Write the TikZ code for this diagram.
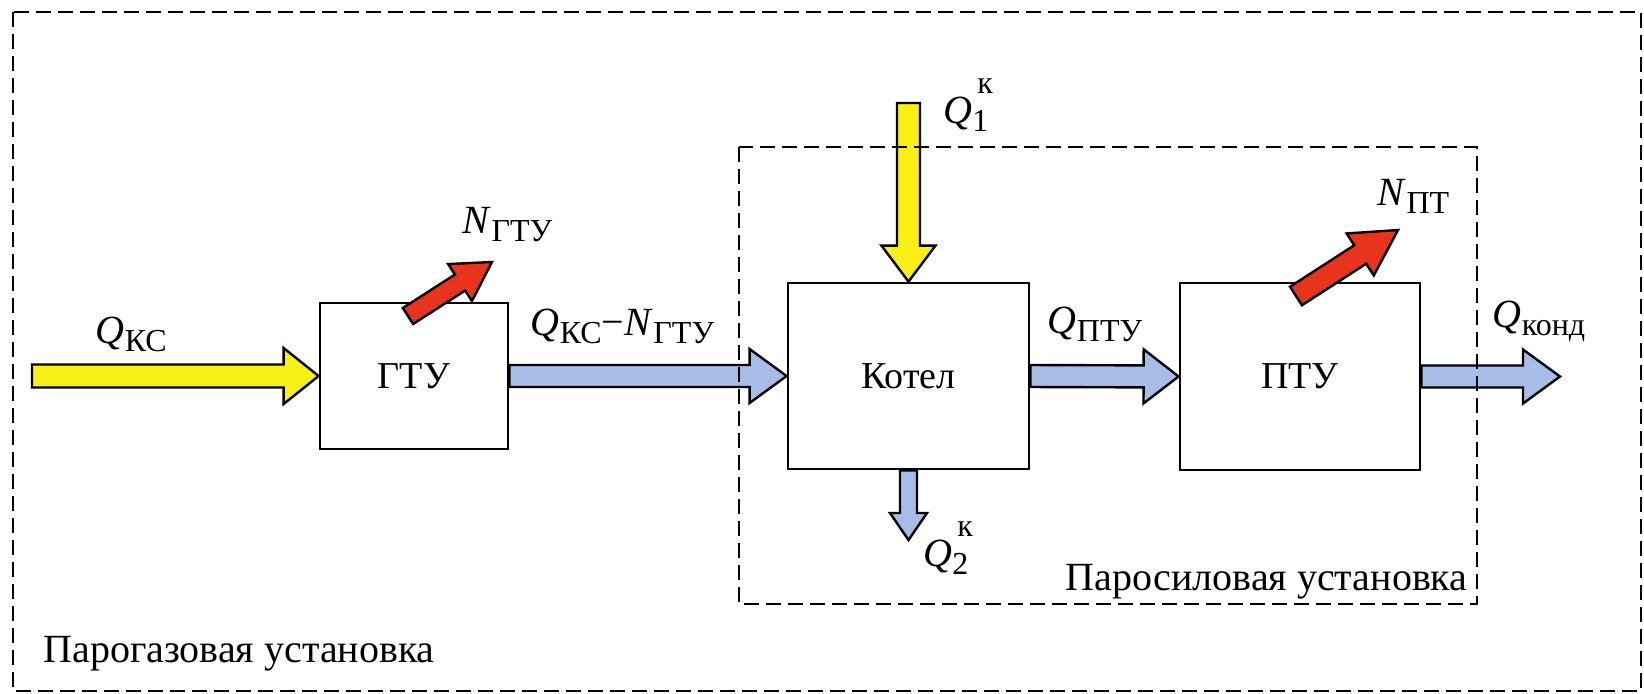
\documentclass[tikz,border=0pt]{standalone}
\usepackage{fontspec}
\setmainfont{Liberation Serif}
\usetikzlibrary{calc}
\definecolor{flowyellow}{RGB}{248,240,20}
\definecolor{flowblue}{RGB}{168,188,232}
\definecolor{flowred}{RGB}{232,52,28}
\newcommand{\subsz}{\fontsize{16}{16}\selectfont}
\newcommand{\sym}[2]{\textit{#1}\kern0.3pt\raisebox{-4pt}{\subsz #2}}
\newcommand{\symk}[2]{\textit{#1}\rlap{\raisebox{-4pt}{\subsz #2}}\raisebox{15pt}{\subsz\kern2.5pt к}}
% #1 from, #2 to, #3 shaft half width, #4 head half width, #5 head length, #6 fill
\newcommand{\fatarrow}[6]{%
  \coordinate (fabase) at ($(#2)!#5!(#1)$);
  \draw[arrowline, fill=#6] ($(#1)!#3!90:(#2)$) -- ($(fabase)!#3!-90:(#1)$)
    -- ($(fabase)!#4!-90:(#1)$) -- (#2) -- ($(fabase)!#4!90:(#1)$)
    -- ($(fabase)!#3!90:(#1)$) -- ($(#1)!#3!-90:(#2)$) -- cycle;}
\begin{document}
\begin{tikzpicture}[x=0.5pt,y=-0.5pt,
  box/.style={draw, line width=1.4pt, fill=white, inner sep=0pt,
    font=\fontsize{19}{19}\selectfont},
  lbl/.style={inner sep=0pt, font=\fontsize{20}{20}\selectfont},
  grp/.style={inner sep=0pt, font=\fontsize{20}{20}\selectfont},
  arrowline/.style={draw=black, line width=1.2pt, line join=miter},
  frame/.style={dashed, dash pattern=on 7.5pt off 3.5pt, line width=0.9pt}]
\useasboundingbox (0,0) rectangle (1644,693);
\fill[white] (0,0) rectangle (1644,693);

% blocks
\node[box, minimum width=94pt, minimum height=73pt] (gtu) at (414,376) {ГТУ};
\node[box, minimum width=120.5pt, minimum height=93pt] (kot) at (908.5,376) {Котел};
\node[box, minimum width=120pt, minimum height=93.5pt] (ptu) at (1300,376.5) {ПТУ};

% free ends
\coordinate (qkcin) at (32,376);
\coordinate (qout) at (1560,376.5);
\coordinate (q1top) at (908.5,103);
\coordinate (q2end) at (908.5,540);
\coordinate (ngtutail) at (408,316);
\coordinate (ngtutip) at (492,262);
\coordinate (npttail) at (1296,296);
\coordinate (npttip) at (1398,230);

% flows
\fatarrow{qkcin}{gtu.west}{5.75pt}{14pt}{17.5pt}{flowyellow}
\fatarrow{gtu.east}{kot.west}{5.5pt}{13.5pt}{18.5pt}{flowblue}
\fatarrow{kot.east}{ptu.west}{5.5pt}{13.5pt}{17.5pt}{flowblue}
\fatarrow{ptu.east}{qout}{5.5pt}{13.5pt}{18.5pt}{flowblue}
\fatarrow{q1top}{kot.north}{5.75pt}{13.5pt}{18pt}{flowyellow}
\fatarrow{kot.south}{q2end}{4.25pt}{9.25pt}{13.5pt}{flowblue}
\fatarrow{ngtutail}{ngtutip}{4.75pt}{11pt}{19pt}{flowred}
\fatarrow{npttail}{npttip}{5.5pt}{12.5pt}{22.5pt}{flowred}

% labels
\node[lbl, anchor=base west] (lqkc) at (95,343) {\sym{Q}{КС}};
\node[lbl, anchor=base west] (lngtu) at (462,233) {\sym{N}{ГТУ}};
\node[lbl, anchor=base west] (lqn) at (530,335) {\sym{Q}{КС}−\sym{N}{ГТУ}};
\node[lbl, anchor=base west] (lq1) at (943,123) {\symk{Q}{1}};
\node[lbl, anchor=base west] (lnpt) at (1377,205) {\sym{N}{ПТ}};
\node[lbl, anchor=base west] (lqptu) at (1047,333) {\sym{Q}{ПТУ}};
\node[lbl, anchor=base west] (lqkond) at (1492,327) {\sym{Q}{конд}};
\node[lbl, anchor=base west] (lq2) at (923,566) {\symk{Q}{2}};

\node[grp, anchor=base east] (psu) at (1468,590) {Паросиловая установка};
\node[grp, anchor=base west] (pgu) at (43,662) {Парогазовая установка};

% dashed frames
\draw[frame] (13,12) rectangle (1641,691);
\draw[frame] (739,147) rectangle (1477,604);
\end{tikzpicture}
\end{document}
